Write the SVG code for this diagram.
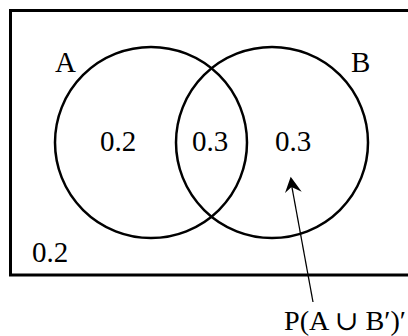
<svg xmlns="http://www.w3.org/2000/svg" width="408" height="336" viewBox="0 0 408 336">
<style>
.t{font-family:'Liberation Serif','Times New Roman','DejaVu Serif',serif;font-size:29px;fill:#000}
.c{fill:none;stroke:#000;stroke-width:2.5}
</style>
<rect x="0" y="0" width="408" height="336" fill="#fff"/>
<g id="universe">
<rect x="10.5" y="10.5" width="410" height="264.5" fill="none" stroke="#000" stroke-width="3"/>
<text class="t" x="32" y="262">0.2</text>
</g>
<g id="setA">
<ellipse class="c" cx="151" cy="142.5" rx="96" ry="95.5"/>
<text class="t" x="55" y="72">A</text>
<text class="t" x="100" y="150.5">0.2</text>
</g>
<g id="setB">
<ellipse class="c" cx="272" cy="142.5" rx="96" ry="95.5"/>
<text class="t" x="351" y="72">B</text>
<text class="t" x="275" y="150.5">0.3</text>
</g>
<g id="intersection">
<text class="t" x="192" y="150.5">0.3</text>
</g>
<g id="connectors">
<line x1="313" y1="302" x2="291" y2="182" stroke="#000" stroke-width="1.3"/>
<polygon points="290.7,176.7 301.7,191.7 291.5,187 285,193" fill="#000"/>
</g>
<g id="label">
<text class="t" x="284" y="329.5" style="font-size:27px" textLength="122" lengthAdjust="spacingAndGlyphs">P(A ∪ B′)′</text>
</g>
</svg>
